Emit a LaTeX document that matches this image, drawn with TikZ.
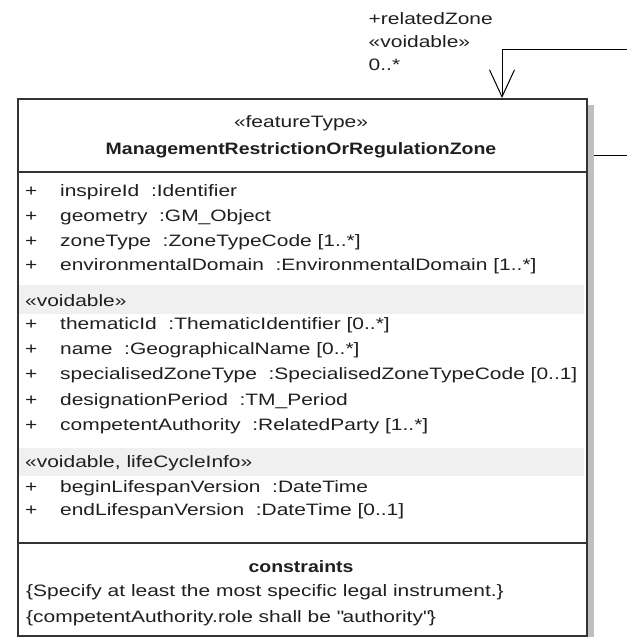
\documentclass[tikz,border=0pt]{standalone}
\usepackage{fontspec}
\setmainfont{Liberation Sans}[FakeStretch=1.27,BoldFeatures={FakeStretch=1.18}]
\usetikzlibrary{arrows.meta}
\newcommand{\vis}{\makebox[35pt][l]{+}}
\begin{document}
\begin{tikzpicture}[x=1pt,y=-1pt,
	txt/.style={inner sep=0pt,font=\fontsize{16.5}{23}\selectfont,text=black!88},
	attr/.style={txt,anchor=west},
	band/.style={fill=black!6,draw=none}]
	\useasboundingbox (0,0) rectangle (627,637);
	% class box and self association
	\node (zone) [draw=black!80,line width=1.8pt,minimum width=569pt,minimum height=537pt,inner sep=0pt,anchor=north west] at (17,98) {};
	\coordinate (selfout) at (627,155);
	\coordinate (selfback) at (627,49);
	\coordinate (relend) at (502,98);
	\draw[line width=1pt] (zone.east |- selfout) -- (selfout);
	\draw[line width=1pt,-{Straight Barb[length=27pt,width=25pt,line width=1pt]}] (selfback) -| (relend);
	\node (role) [txt,anchor=north east,align=left] at (493,12) {+relatedZone\\«voidable»\\0..*};
	% shadow
	\fill[black!25] (588,105) rectangle (594,637);
	% compartments
	\fill[band] (19,285) rectangle (584,314);
	\fill[band] (19,448) rectangle (584,476);
	\draw[line width=1.3pt,black!80] (17,172) -- (586,172);
	\draw[line width=1.3pt,black!80] (17,543) -- (586,543);
	\node (stereo) [txt] at (301,123) {«featureType»};
	\node (name) [txt,font=\fontsize{16.5}{23}\selectfont\bfseries] at (301,150) {ManagementRestrictionOrRegulationZone};
	\node (a1) [attr] at (25,192) {\vis inspireId\ \ :Identifier};
	\node (a2) [attr] at (25,217) {\vis geometry\ \ :GM\_Object};
	\node (a3) [attr] at (25,242) {\vis zoneType\ \ :ZoneTypeCode [1..*]};
	\node (a4) [attr] at (25,266) {\vis environmentalDomain\ \ :EnvironmentalDomain [1..*]};
	\node (v1) [attr] at (25,301) {«voidable»};
	\node (a5) [attr] at (25,325) {\vis thematicId\ \ :ThematicIdentifier [0..*]};
	\node (a6) [attr] at (25,350) {\vis name\ \ :GeographicalName [0..*]};
	\node (a7) [attr] at (25,375) {\vis specialisedZoneType\ \ :SpecialisedZoneTypeCode [0..1]};
	\node (a8) [attr] at (25,401) {\vis designationPeriod\ \ :TM\_Period};
	\node (a9) [attr] at (25,426) {\vis competentAuthority\ \ :RelatedParty [1..*]};
	\node (v2) [attr] at (25,463) {«voidable, lifeCycleInfo»};
	\node (a10) [attr] at (25,488) {\vis beginLifespanVersion\ \ :DateTime};
	\node (a11) [attr] at (25,511) {\vis endLifespanVersion\ \ :DateTime [0..1]};
	% constraints
	\node (ctitle) [txt,font=\fontsize{16.5}{23}\selectfont\bfseries] at (301,567) {constraints};
	\node (c1) [attr] at (26,592) {\{Specify at least the most specific legal instrument.\}};
	\node (c2) [attr] at (26,618) {\{competentAuthority.role shall be \textquotedbl authority\textquotedbl\}};
\end{tikzpicture}
\end{document}
